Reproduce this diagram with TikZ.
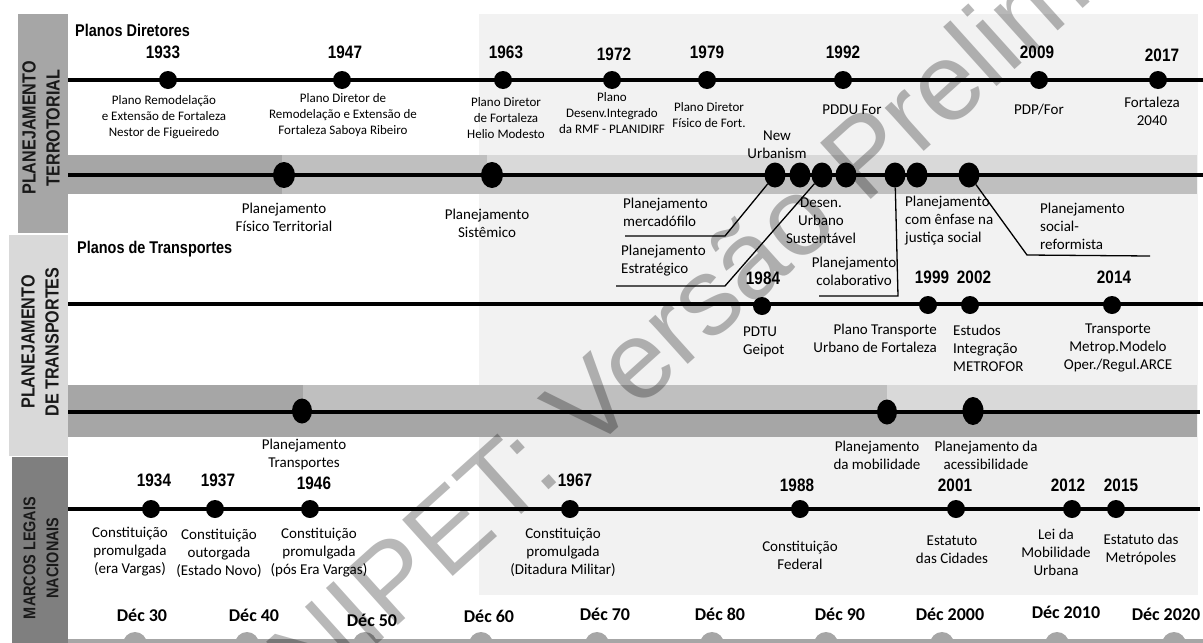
\documentclass[tikz,border=0pt]{standalone}
\usepackage{fontspec}
\setmainfont{Carlito}
\newfontfamily\condfont{Liberation Sans}[FakeStretch=0.85]
\newfontfamily\markfont{Liberation Sans}
\usetikzlibrary{shapes.geometric,positioning}

\definecolor{grayA}{HTML}{A6A6A6}
\definecolor{grayB}{HTML}{BFBFBF}
\definecolor{grayC}{HTML}{D9D9D9}
\definecolor{grayD}{HTML}{7F7F7F}
\definecolor{grayE}{HTML}{F2F2F2}

\tikzstyle{axis} = [line width=4.5pt]
\tikzstyle{bandline} = [line width=4pt]
\tikzstyle{dot} = [circle,fill=black,inner sep=0,minimum size=18pt]
\tikzstyle{bdot} = [ellipse,fill=black,inner sep=0,minimum width=21pt,minimum height=25pt]
\tikzstyle{year} = [inner sep=0,font=\condfont\bfseries\fontsize{18}{18}\selectfont]
\tikzstyle{title} = [inner sep=0,anchor=west,font=\condfont\bfseries\fontsize{17}{17}\selectfont]
\tikzstyle{plan} = [inner sep=0,align=center,font=\fontsize{13}{16}\selectfont]
\tikzstyle{lbl} = [inner sep=0,align=center,font=\fontsize{15}{18}\selectfont]
\tikzstyle{link} = [draw,line width=1.3pt]
\tikzstyle{dec} = [inner sep=0,font=\bfseries\fontsize{18}{18}\selectfont]
\tikzstyle{decmark} = [circle,fill=grayA,inner sep=0,minimum size=24pt]
\tikzstyle{side} = [inner sep=0,rotate=90,align=center,text=black!90,font=\condfont\bfseries\fontsize{19}{24}\selectfont]
\tikzstyle{wmark} = [inner sep=0,anchor=base west,rotate=42,opacity=0.28,font=\markfont\fontsize{110}{110}\selectfont]

\begin{document}
\begin{tikzpicture}[x=1pt,y=-1pt]
\useasboundingbox (0,0) rectangle (1203,643);

% shaded period and side boxes
\fill[grayE] (479,14) rectangle (1198,595);
\fill[grayA] (18,14) rectangle (68,233);
\fill[grayC] (9,235) rectangle (68,456);
\fill[grayD] (12,457) rectangle (68,643);
\node[side] (sTerr) at (41,128) {PLANEJAMENTO\\TERROTORIAL};
\node[side] (sTrans) at (40,342) {PLANEJAMENTO\\DE TRANSPORTES};
\node[side,font=\condfont\bfseries\fontsize{17}{23}\selectfont] (sLegal) at (41,558) {MARCOS LEGAIS\\NACIONAIS};

% bands
\fill[grayA] (68,155) rectangle (282,194);
\fill[grayB] (282,155) rectangle (487,194);
\fill[grayC] (487,155) rectangle (1197,175);
\fill[grayB] (487,175) rectangle (1197,194);
\fill[grayA] (68,385) rectangle (1197,437);
\fill[grayB] (303,385) rectangle (887,412);
\fill[grayC] (887,385) rectangle (1197,412);

% time lines
\draw[axis] (68,80) -- (1203,80);
\draw[bandline] (68,175) -- (1203,175);
\draw[axis] (68,304) -- (1203,304);
\draw[bandline] (68,412) -- (1200,412);
\draw[axis] (68,509) -- (1200,509);
\draw[grayA,line width=4pt] (68,641) -- (1203,641);

% Planos Diretores
\node[title] (tDir) at (75,30) {Planos Diretores};
\node[dot] (p1933) at (168,80) {};
\node[year] (y1933) at (163,52) {1933};
\node[plan] (l1933) at (164,117) {Plano Remodelação\\e Extensão de Fortaleza\\Nestor de Figueiredo};
\node[dot] (p1947) at (342,80) {};
\node[year] (y1947) at (345,52) {1947};
\node[plan] (l1947) at (343,115) {Plano Diretor de\\Remodelação e Extensão de\\Fortaleza Saboya Ribeiro};
\node[dot] (p1963) at (503,80) {};
\node[year] (y1963) at (506,52) {1963};
\node[plan] (l1963) at (506,118) {Plano Diretor\\de Fortaleza\\Helio Modesto};
\node[dot] (p1972) at (612,80) {};
\node[year] (y1972) at (614,54) {1972};
\node[plan] (l1972) at (612,113) {Plano\\Desenv.Integrado\\da RMF - PLANIDIRF};
\node[dot] (p1979) at (707,80) {};
\node[year] (y1979) at (707,52) {1979};
\node[plan] (l1979) at (709,115) {Plano Diretor\\Físico de Fort.};
\node[dot] (p1992) at (843,80) {};
\node[year] (y1992) at (843,52) {1992};
\node[lbl] (l1992) at (852,110) {PDDU For};
\node[dot] (p2009) at (1039,80) {};
\node[year] (y2009) at (1037,52) {2009};
\node[lbl] (l2009) at (1039,110) {PDP/For};
\node[dot] (p2017) at (1158,80) {};
\node[year] (y2017) at (1162,55) {2017};
\node[lbl] (l2017) at (1152,111) {Fortaleza\\2040};

% planejamento territorial
\node[bdot,minimum width=22pt,minimum height=26pt] (bFis) at (284,175) {};
\node[lbl] (lFis) at (284,217) {Planejamento\\Físico Territorial};
\node[bdot,minimum width=22pt,minimum height=26pt] (bSis) at (492,175) {};
\node[lbl] (lSis) at (487,223) {Planejamento\\Sistêmico};
\node[bdot] (bMerc) at (775,175) {};
\node[bdot] (bNew) at (800,175) {};
\node[bdot] (bEstr) at (822,175) {};
\node[bdot] (bSust) at (846,175) {};
\node[bdot] (bColab) at (895,175) {};
\node[bdot] (bJust) at (917,175) {};
\node[bdot] (bSocial) at (969,175) {};
\node[lbl] (lNew) at (777,145) {New\\Urbanism};
\node[lbl,anchor=west,align=left] (lMerc) at (623,212) {Planejamento\\mercadófilo};
\node[lbl,anchor=west,align=left] (lEstr) at (621,261) {Planejamento\\Estratégico};
\node[lbl] (lSust) at (821,221) {Desen.\\Urbano\\Sustentável};
\node[lbl] (lColab) at (854,271) {Planejamento\\colaborativo};
\node[lbl,anchor=west,align=left] (lJust) at (905,221) {Planejamento\\com ênfase na\\justiça social};
\node[lbl,anchor=west,align=left] (lSocial) at (1040,226) {Planejamento\\social-\\reformista};
\coordinate (cMerc1) at (725,236);
\coordinate (cMerc2) at (625,236);
\coordinate (cEstr1) at (725,286);
\coordinate (cEstr2) at (616,286);
\coordinate (cColab1) at (898,296);
\coordinate (cColab2) at (819,296);
\coordinate (cSoc1) at (1027,255);
\coordinate (cSoc2) at (1150,256);
\path[link] (bMerc) -- (cMerc1) -- (cMerc2);
\path[link] (bEstr) -- (cEstr1) -- (cEstr2);
\path[link] (bColab) -- (cColab1) -- (cColab2);
\path[link] (bSocial) -- (cSoc1) -- (cSoc2);

% Planos de Transportes
\node[title] (tTrans) at (77,249) {Planos de Transportes};
\node[dot] (p1984) at (762,306) {};
\node[year] (y1984) at (763,278) {1984};
\node[lbl,anchor=west,align=left] (l1984) at (743,342) {PDTU\\Geipot};
\node[dot] (p1999) at (928,305) {};
\node[year] (y1999) at (932,277) {1999};
\node[lbl,anchor=east,align=right] (l1999) at (937,338) {Plano Transporte\\Urbano de Fortaleza};
\node[dot] (p2002) at (970,305) {};
\node[year] (y2002) at (974,277) {2002};
\node[lbl,anchor=west,align=left] (l2002) at (953,348) {Estudos\\Integração\\METROFOR};
\node[dot] (p2014) at (1112,305) {};
\node[year] (y2014) at (1114,277) {2014};
\node[lbl] (l2014) at (1118,348) {Transporte\\Metrop.Modelo\\Oper./Regul.ARCE};

% planejamento de transportes
\node[bdot,minimum width=20pt] (bTransp) at (302,411) {};
\node[lbl] (lTransp) at (304,454) {Planejamento\\Transportes};
\node[bdot,minimum width=20pt] (bMob) at (887,412) {};
\node[lbl] (lMob) at (877,455) {Planejamento\\da mobilidade};
\node[bdot,minimum height=28pt] (bAces) at (973,411) {};
\node[lbl] (lAces) at (986,455) {Planejamento da\\acessibilidade};

% marcos legais
\node[dot] (p1934) at (151,509) {};
\node[year] (y1934) at (154,480) {1934};
\node[lbl] (l1934) at (130,552) {Constituição\\promulgada\\(era Vargas)};
\node[dot] (p1937) at (215,509) {};
\node[year] (y1937) at (218,480) {1937};
\node[lbl] (l1937) at (219,553) {Constituição\\outorgada\\(Estado Novo)};
\node[dot] (p1946) at (310,509) {};
\node[year] (y1946) at (314,483) {1946};
\node[lbl] (l1946) at (319,553) {Constituição\\promulgada\\(pós Era Vargas)};
\node[dot] (p1967) at (570,509) {};
\node[year] (y1967) at (575,480) {1967};
\node[lbl] (l1967) at (563,552) {Constituição\\promulgada\\(Ditadura Militar)};
\node[dot] (p1988) at (800,509) {};
\node[year] (y1988) at (797,485) {1988};
\node[lbl] (l1988) at (800,555) {Constituição\\Federal};
\node[dot] (p2001) at (956,509) {};
\node[year] (y2001) at (955,485) {2001};
\node[lbl] (l2001) at (952,550) {Estatuto\\das Cidades};
\node[dot] (p2012) at (1072,509) {};
\node[year] (y2012) at (1068,485) {2012};
\node[lbl] (l2012) at (1056,552) {Lei da\\Mobilidade\\Urbana};
\node[dot] (p2015) at (1116,509) {};
\node[year] (y2015) at (1121,485) {2015};
\node[lbl] (l2015) at (1141,549) {Estatuto das\\Metrópoles};

% decadas
\node[decmark] (m30) at (135,644) {};
\node[decmark] (m40) at (247,644) {};
\node[decmark] (m50) at (365,644) {};
\node[decmark] (m60) at (481,644) {};
\node[decmark] (m70) at (597,644) {};
\node[decmark] (m80) at (712,644) {};
\node[decmark] (m90) at (826,644) {};
\node[decmark] (m2000) at (942,644) {};
\node[decmark] (m2010) at (1057,644) {};
\node[decmark] (m2020) at (1174,644) {};
\node[dec] (d30) at (142,615) {Déc 30};
\node[dec] (d40) at (254,615) {Déc 40};
\node[dec] (d50) at (372,620) {Déc 50};
\node[dec] (d60) at (489,616) {Déc 60};
\node[dec] (d70) at (605,614) {Déc 70};
\node[dec] (d80) at (720,614) {Déc 80};
\node[dec] (d90) at (840,614) {Déc 90};
\node[dec] (d2000) at (950,614) {Déc 2000};
\node[dec] (d2010) at (1066,612) {Déc 2010};
\node[dec] (d2020) at (1166,614) {Déc 2020};

% marca d'agua
\node[wmark] (wm) at (310,705) {NIPET: Versão Preliminar};
\end{tikzpicture}
\end{document}
